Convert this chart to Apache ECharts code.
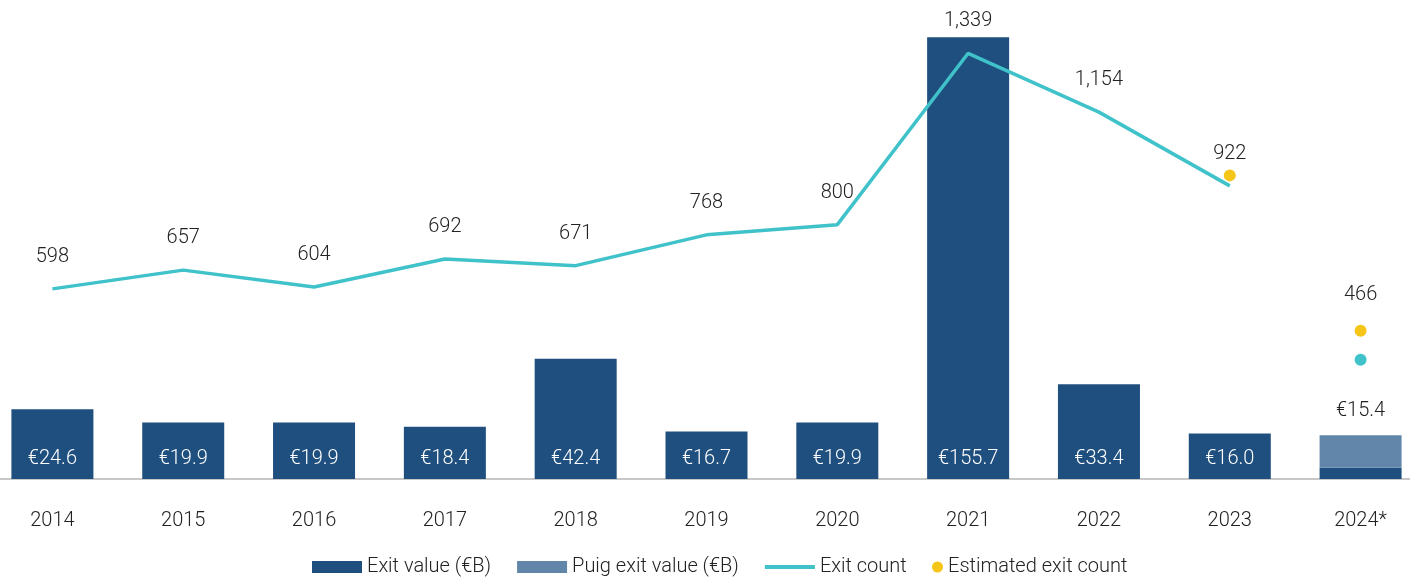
<!DOCTYPE html>
<html><head><meta charset="utf-8">
<script src="https://cdn.jsdelivr.net/npm/echarts@6/dist/echarts.min.js"></script>
<style>html,body{margin:0;padding:0;background:#fff}#c{width:1410px;height:580px}</style>
</head><body><div id="c"></div>
<script>
const years = ['2014','2015','2016','2017','2018','2019','2020','2021','2022','2023','2024*'];
const exitValue = [24.6,19.9,19.9,18.4,42.4,16.7,19.9,155.7,33.4,16.0,4.0];
const puigValue = [null,null,null,null,null,null,null,null,null,null,11.4];
const exitCount = [598,657,604,692,671,768,800,1339,1154,922,null];
const exitCount2024 = [null,null,null,null,null,null,null,null,null,null,375];
const estimatedCount = [null,null,null,null,null,null,null,null,null,955,466];

const FONT = "Roboto, 'Noto Sans', sans-serif";
const FW = 300;
const DARK = '#1f4f7f', LIGHT = '#6286a9', TEAL = '#3fc2c9', YELLOW = '#f5c518';
const TXT = {fontFamily:FONT, fontWeight:FW, fontSize:20, color:'#222'};
const chart = echarts.init(document.getElementById('c'), null, {renderer:'canvas'});
chart.setOption({
  animation:false,
  textStyle:{fontFamily:FONT, fontWeight:FW},
  grid:{left:-13, right:-16, top:25, bottom:101, outerBoundsMode:'none', containLabel:false},
  legend:[{
    top:552, left:307, itemGap:26, itemWidth:50, itemHeight:12,
    textStyle:Object.assign({}, TXT),
    data:[
      {name:'Exit value (€B)', icon:'rect'},
      {name:'Puig exit value (€B)', icon:'rect'},
      {name:'Exit count', icon:'path://M0,0 L50,0 L50,4 L0,4 Z'}
    ]
  },{
    top:552, left:927, itemWidth:11, itemHeight:11,
    textStyle:Object.assign({}, TXT),
    data:[{name:'Estimated exit count', icon:'circle'}]
  }],
  xAxis:{type:'category', data:years, boundaryGap:true,
    axisLine:{lineStyle:{color:'#c8c8c8', width:2}}, axisTick:{show:false},
    axisLabel:Object.assign({}, TXT, {margin:32})},
  yAxis:[
    {type:'value', min:0, max:160, show:false, splitLine:{show:false}},
    {type:'value', min:0, max:1428, show:false, splitLine:{show:false}}
  ],
  series:[
    {name:'Exit value (€B)', type:'bar', stack:'v', data:exitValue, barWidth:82,
      itemStyle:{color:DARK},
      label:Object.assign({show:true, position:'insideBottom', distance:10}, TXT, {color:'#fff',
        formatter:p=> p.dataIndex===years.length-1 ? '' : '€'+p.value.toFixed(1)})},
    {name:'Puig exit value (€B)', type:'bar', stack:'v', data:puigValue, barWidth:82,
      itemStyle:{color:LIGHT},
      label:Object.assign({show:true, position:'top', distance:14}, TXT, {
        formatter:p=> '€'+(p.value+exitValue[p.dataIndex]).toFixed(1)})},
    {name:'Exit count', type:'line', yAxisIndex:1, data:exitCount, showSymbol:true, symbol:'circle', symbolSize:0.1,
      lineStyle:{color:TEAL, width:3.5}, itemStyle:{color:TEAL},
      label:Object.assign({show:true, position:'top', distance:22}, TXT, {
        formatter:p=> p.value.toLocaleString('en-US')})},
    {name:'Exit count 2024', type:'scatter', yAxisIndex:1, data:exitCount2024, symbolSize:12,
      itemStyle:{color:TEAL, opacity:1}},
    {name:'Estimated exit count', type:'scatter', yAxisIndex:1, data:estimatedCount, symbolSize:12,
      itemStyle:{color:YELLOW, opacity:1},
      label:Object.assign({show:true, position:'top', distance:20}, TXT, {
        formatter:p=> p.dataIndex===years.length-1 ? String(p.value) : ''})}
  ]
});
</script></body></html>
